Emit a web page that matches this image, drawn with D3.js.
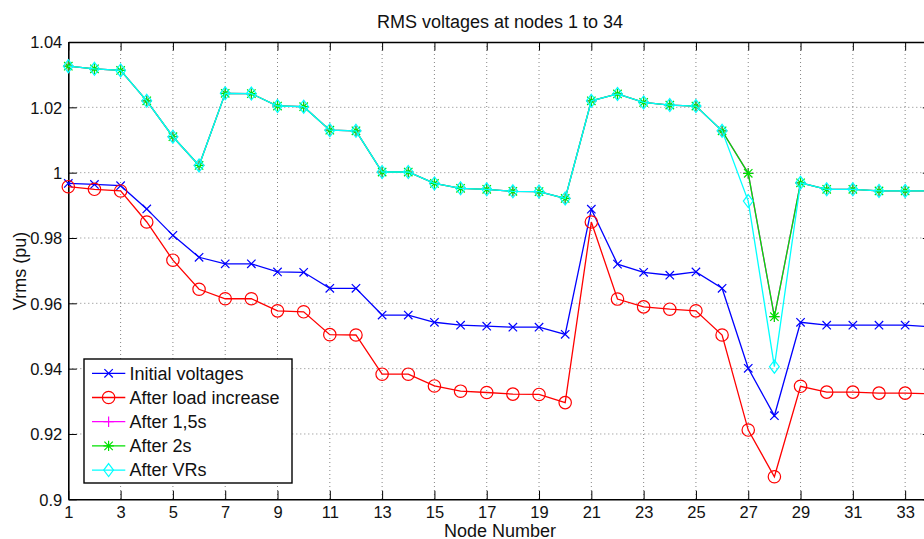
<!DOCTYPE html>
<html><head><meta charset="utf-8">
<script src="https://cdn.jsdelivr.net/npm/d3@7/dist/d3.min.js"></script>
<style>html,body{margin:0;padding:0;background:#fff;overflow:hidden}</style>
</head><body>
<svg id="c" width="924" height="539"></svg>
<script>
const nodes = [1,2,3,4,5,6,7,8,9,10,11,12,13,14,15,16,17,18,19,20,21,22,23,24,25,26,27,28,29,30,31,32,33,34];
const initialV = [0.9967,0.9964,0.9960,0.9889,0.9808,0.9741,0.9721,0.9721,0.9696,0.9695,0.9646,0.9646,0.9564,0.9564,0.9542,0.9533,0.9530,0.9527,0.9527,0.9505,0.9888,0.9720,0.9695,0.9686,0.9696,0.9646,0.9401,0.9256,0.9542,0.9533,0.9533,0.9533,0.9533,0.9528];
const afterLoad = [0.9957,0.9949,0.9944,0.9849,0.9732,0.9643,0.9614,0.9614,0.9577,0.9574,0.9504,0.9503,0.9383,0.9383,0.9347,0.9331,0.9327,0.9322,0.9321,0.9296,0.9849,0.9613,0.9589,0.9582,0.9577,0.9503,0.9212,0.9069,0.9346,0.9328,0.9328,0.9325,0.9325,0.9323];
const after15s = [1.0326,1.0318,1.0313,1.0220,1.0110,1.0022,1.0243,1.0242,1.0204,1.0202,1.0130,1.0128,1.0002,1.0002,0.9967,0.9952,0.9949,0.9943,0.9942,0.9921,1.0220,1.0241,1.0215,1.0207,1.0204,1.0128,0.9998,0.9559,0.9969,0.9949,0.9949,0.9944,0.9944,0.9944];
const after2s = [1.0326,1.0318,1.0313,1.0220,1.0110,1.0022,1.0243,1.0242,1.0204,1.0202,1.0130,1.0128,1.0002,1.0002,0.9967,0.9952,0.9949,0.9943,0.9942,0.9921,1.0220,1.0241,1.0215,1.0207,1.0204,1.0128,0.9998,0.9559,0.9969,0.9949,0.9949,0.9944,0.9944,0.9944];
const afterVRs = [1.0326,1.0318,1.0313,1.0220,1.0110,1.0022,1.0243,1.0242,1.0204,1.0202,1.0130,1.0128,1.0002,1.0002,0.9967,0.9952,0.9949,0.9943,0.9942,0.9921,1.0220,1.0241,1.0215,1.0207,1.0204,1.0128,0.9913,0.9406,0.9969,0.9949,0.9949,0.9944,0.9944,0.9944];
const xTicks = [1,3,5,7,9,11,13,15,17,19,21,23,25,27,29,31,33];
const yTicks = [0.9,0.92,0.94,0.96,0.98,1,1.02,1.04];
const seriesNames = ["Initial voltages","After load increase","After 1,5s","After 2s","After VRs"];
const seriesColors = ["#0000ff","#ff0000","#ff00ff","#00e000","#00ffff"];
const seriesMarkers = ["x","o","+","*","d"];
const seriesData = [initialV, afterLoad, after15s, after2s, afterVRs];

const svg = d3.select("#c");
const L = 68.3, R = 931.3, T = 42, B = 499.3;
const x = d3.scaleLinear().domain([1,34]).range([L,R]);
const y = d3.scaleLinear().domain([0.9,1.04]).range([B,T]);
const font = "'Liberation Sans', Arial, Helvetica, sans-serif";

// grid
const grid = svg.append("g").attr("stroke","#666").attr("stroke-width",0.8).attr("stroke-dasharray","1,3");
grid.selectAll("line.gx").data(xTicks.slice(1)).join("line")
  .attr("x1",d=>x(d)).attr("x2",d=>x(d)).attr("y1",T).attr("y2",B);
grid.selectAll("line.gy").data(yTicks.slice(1,-1)).join("line")
  .attr("x1",L).attr("x2",R).attr("y1",d=>y(d)).attr("y2",d=>y(d));

// axes
const tl = 8.5;
const ax = svg.append("g");
const xb = ax.append("g").attr("transform",`translate(0,${B})`)
  .call(d3.axisBottom(x).tickValues(xTicks).tickSizeInner(-tl).tickSizeOuter(0).tickPadding(7).tickFormat(d3.format("d")));
const xt = ax.append("g").attr("transform",`translate(0,${T})`)
  .call(d3.axisTop(x).tickValues(xTicks).tickSizeInner(-tl).tickSizeOuter(0).tickFormat(""));
const yl = ax.append("g").attr("transform",`translate(${L},0)`)
  .call(d3.axisLeft(y).tickValues(yTicks).tickSizeInner(-tl).tickSizeOuter(0).tickPadding(6).tickFormat(d=>String(+d.toFixed(2))));
const yr = ax.append("g").attr("transform",`translate(${R},0)`)
  .call(d3.axisRight(y).tickValues(yTicks).tickSizeInner(-tl).tickSizeOuter(0).tickFormat(""));
[xb,xt,yl,yr].forEach(g=>g.attr("font-family",font).attr("font-size","16.5px"));
ax.selectAll(".domain").attr("stroke","#000").attr("stroke-width",1.6);
ax.selectAll(".tick line").attr("stroke","#000").attr("stroke-width",1);
ax.selectAll(".tick text").attr("fill","#111");
yl.selectAll(".tick text").attr("dy","0.36em");

// series
const line = d3.line().x((d,i)=>x(nodes[i])).y(d=>y(d));
function marker(g, type, cx, cy, color){
  const s = 4.2;
  if(type==="x"){
    g.append("path").attr("d",`M${cx-s},${cy-s}L${cx+s},${cy+s}M${cx-s},${cy+s}L${cx+s},${cy-s}`).attr("stroke",color).attr("stroke-width",1.2);
  } else if(type==="o"){
    g.append("circle").attr("cx",cx).attr("cy",cy).attr("r",6.2).attr("fill","none").attr("stroke",color).attr("stroke-width",1.2);
  } else if(type==="+"){
    g.append("path").attr("d",`M${cx-s-1},${cy}L${cx+s+1},${cy}M${cx},${cy-s-1}L${cx},${cy+s+1}`).attr("stroke",color).attr("stroke-width",1.2);
  } else if(type==="*"){
    g.append("path").attr("d",`M${cx-s-1},${cy}L${cx+s+1},${cy}M${cx},${cy-s-1}L${cx},${cy+s+1}M${cx-s},${cy-s}L${cx+s},${cy+s}M${cx-s},${cy+s}L${cx+s},${cy-s}`).attr("stroke",color).attr("stroke-width",1.2);
  } else if(type==="d"){
    const r = 6.5;
    g.append("path").attr("d",`M${cx},${cy-r}L${cx+r*0.75},${cy}L${cx},${cy+r}L${cx-r*0.75},${cy}Z`).attr("fill","none").attr("stroke",color).attr("stroke-width",1.2);
  }
}
seriesData.forEach((vals,k)=>{
  const g = svg.append("g");
  g.append("path").datum(vals).attr("d",line).attr("fill","none").attr("stroke",seriesColors[k]).attr("stroke-width",1.3);
  vals.forEach((v,i)=>marker(g, seriesMarkers[k], x(nodes[i]), y(v), seriesColors[k]));
});

// legend
const lg = svg.append("g").attr("font-family",font).attr("font-size","18px");
lg.append("rect").attr("x",84).attr("y",359).attr("width",208).attr("height",124).attr("fill","#fff").attr("stroke","#000").attr("stroke-width",1.4);
seriesNames.forEach((n,k)=>{
  const yy = 373.3 + k*24.2;
  lg.append("line").attr("x1",92).attr("x2",125.3).attr("y1",yy).attr("y2",yy).attr("stroke",seriesColors[k]).attr("stroke-width",1.3);
  marker(lg, seriesMarkers[k], 108.6, yy, seriesColors[k]);
  lg.append("text").attr("x",129.5).attr("y",yy).attr("dy","0.35em").attr("fill","#111").text(n);
});

// titles
svg.append("text").attr("x",500).attr("y",28).attr("text-anchor","middle").attr("font-family",font).attr("font-size","18px").attr("fill","#111").text("RMS voltages at nodes 1 to 34");
svg.append("text").attr("x",500).attr("y",536.5).attr("text-anchor","middle").attr("font-family",font).attr("font-size","18px").attr("fill","#111").text("Node Number");
svg.append("text").attr("transform","translate(26,271) rotate(-90)").attr("text-anchor","middle").attr("font-family",font).attr("font-size","18px").attr("fill","#111").text("Vrms (pu)");
</script>
</body></html>
